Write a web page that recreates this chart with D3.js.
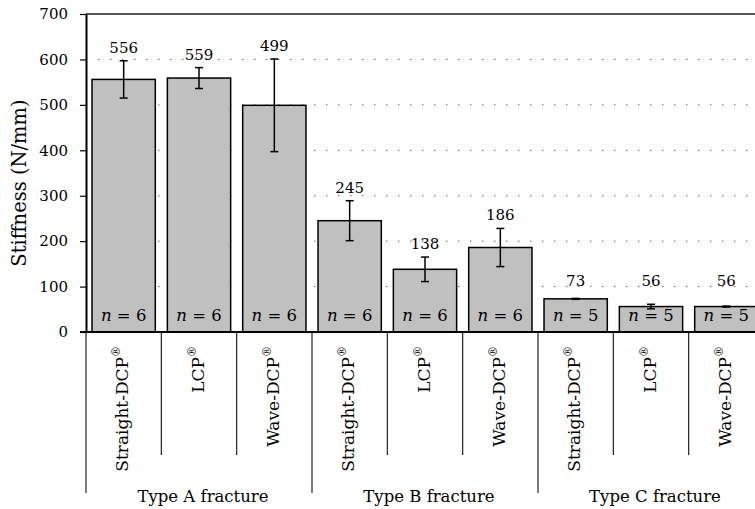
<!DOCTYPE html>
<html>
<head>
<meta charset="utf-8">
<script src="https://cdn.jsdelivr.net/npm/d3@7"></script>
<style>
  body { margin: 0; background: #fff; }
  svg { display: block; font-family: "DejaVu Serif", "Liberation Serif", serif; }
  .grid line { stroke: #666; stroke-width: 1; stroke-dasharray: 1.5 10.5; }
</style>
</head>
<body>
<div id="chart"></div>
<script>
// values
let plates = ["Straight-DCP", "LCP", "Wave-DCP", "Straight-DCP", "LCP", "Wave-DCP", "Straight-DCP", "LCP", "Wave-DCP"];
let groups = ["Type A fracture", "Type B fracture", "Type C fracture"];
let means = [556, 559, 499, 245, 138, 186, 73, 56, 56];
let errors = [41, 23, 102, 44, 27, 42, 1, 5, 1];
let nCounts = [6, 6, 6, 6, 6, 6, 5, 5, 5];
let yTicks = [0, 100, 200, 300, 400, 500, 600, 700];

let data = plates.map((p, i) => ({plate: p, group: Math.floor(i / 3), mean: means[i], err: errors[i], n: nCounts[i], idx: i}));

let width = 755, height = 509;
let plot = {left: 86, right: 764, top: 14, bottom: 332};

let svg = d3.select("#chart").append("svg")
    .attr("width", width)
    .attr("height", height);

let x = d3.scaleBand()
    .domain(d3.range(plates.length))
    .range([plot.left, plot.right])
    .paddingInner(0.16)
    .paddingOuter(0.08);

let y = d3.scaleLinear()
    .domain([0, 700])
    .range([plot.bottom, plot.top]);

let step = (plot.right - plot.left) / plates.length;

// dotted gridlines
svg.append("g").attr("class", "grid")
    .selectAll("line")
    .data(yTicks.filter(t => t > 0 && t < 700))
    .enter().append("line")
    .attr("x1", plot.left).attr("x2", plot.right)
    .attr("y1", d => y(d)).attr("y2", d => y(d));

// top border line
svg.append("line")
    .attr("x1", plot.left).attr("x2", plot.right)
    .attr("y1", y(700)).attr("y2", y(700))
    .attr("stroke", "#555").attr("stroke-width", 2);

// bars
svg.selectAll("rect.bar")
    .data(data)
    .enter().append("rect")
    .attr("class", "bar")
    .attr("x", d => x(d.idx))
    .attr("width", x.bandwidth())
    .attr("y", d => y(d.mean))
    .attr("height", d => y(0) - y(d.mean))
    .attr("fill", "#c0c0c0")
    .attr("stroke", "#000")
    .attr("stroke-width", 1.5);

// error bars
let eb = svg.append("g").selectAll("g")
    .data(data)
    .enter().append("g")
    .attr("stroke", "#000")
    .attr("stroke-width", 1.5);

eb.append("line")
    .attr("x1", d => x(d.idx) + x.bandwidth() / 2)
    .attr("x2", d => x(d.idx) + x.bandwidth() / 2)
    .attr("y1", d => y(d.mean - d.err))
    .attr("y2", d => y(d.mean + d.err));
eb.append("line")
    .attr("x1", d => x(d.idx) + x.bandwidth() / 2 - 4)
    .attr("x2", d => x(d.idx) + x.bandwidth() / 2 + 4)
    .attr("y1", d => y(d.mean + d.err))
    .attr("y2", d => y(d.mean + d.err));
eb.append("line")
    .attr("x1", d => x(d.idx) + x.bandwidth() / 2 - 4)
    .attr("x2", d => x(d.idx) + x.bandwidth() / 2 + 4)
    .attr("y1", d => y(d.mean - d.err))
    .attr("y2", d => y(d.mean - d.err));

// value labels
svg.selectAll("text.val")
    .data(data)
    .enter().append("text")
    .attr("class", "val")
    .attr("x", d => x(d.idx) + x.bandwidth() / 2)
    .attr("y", d => Math.min(y(d.mean + d.err) - 8, y(0) - 46))
    .attr("text-anchor", "middle")
    .attr("font-size", 15)
    .text(d => d.mean);

// n labels
let nl = svg.selectAll("text.n")
    .data(data)
    .enter().append("text")
    .attr("class", "n")
    .attr("x", d => x(d.idx) + x.bandwidth() / 2)
    .attr("y", y(0) - 11)
    .attr("text-anchor", "middle")
    .attr("font-size", 16.5);
nl.append("tspan").attr("font-style", "italic").text("n");
nl.append("tspan").text(d => " = " + d.n);

// y axis
let yAxis = d3.axisLeft(y)
    .tickValues(yTicks)
    .tickSize(6)
    .tickSizeOuter(0)
    .tickPadding(12);

let yg = svg.append("g")
    .attr("transform", `translate(${plot.left},0)`)
    .call(yAxis);
yg.select(".domain").attr("stroke", "#000").attr("stroke-width", 2);
yg.selectAll(".tick line").attr("stroke", "#000").attr("stroke-width", 1.2);
yg.selectAll(".tick text")
    .attr("font-family", "DejaVu Serif, serif")
    .attr("font-size", 15)
    .attr("fill", "#000");

// baseline
svg.append("line")
    .attr("x1", plot.left - 6).attr("x2", plot.right)
    .attr("y1", y(0)).attr("y2", y(0))
    .attr("stroke", "#000").attr("stroke-width", 2);

// y title
svg.append("text")
    .attr("transform", `translate(26,183) rotate(-90)`)
    .attr("text-anchor", "middle")
    .attr("font-size", 19.5)
    .text("Stiffness (N/mm)");

// category dividers
svg.append("g").selectAll("line")
    .data(d3.range(plates.length + 1))
    .enter().append("line")
    .attr("x1", d => plot.left + d * step)
    .attr("x2", d => plot.left + d * step)
    .attr("y1", y(0))
    .attr("y2", d => d % 3 === 0 ? 493 : 455)
    .attr("stroke", "#222")
    .attr("stroke-width", 1.2);

// category labels
let cl = svg.selectAll("text.cat")
    .data(data)
    .enter().append("text")
    .attr("class", "cat")
    .attr("transform", d => `translate(${x(d.idx) + x.bandwidth() / 2},346) rotate(-90)`)
    .attr("text-anchor", "end")
    .attr("dy", "0.28em")
    .attr("font-size", 17);
cl.append("tspan").text(d => d.plate);
cl.append("tspan").attr("font-size", 11).attr("dy", "-0.75em").text("®");

// group labels
svg.selectAll("text.grp")
    .data(groups)
    .enter().append("text")
    .attr("class", "grp")
    .attr("x", (d, i) => plot.left + (i * 3 + 1.5) * step + 4)
    .attr("y", 502)
    .attr("text-anchor", "middle")
    .attr("font-size", 16.5)
    .text(d => d);
</script>
</body>
</html>
